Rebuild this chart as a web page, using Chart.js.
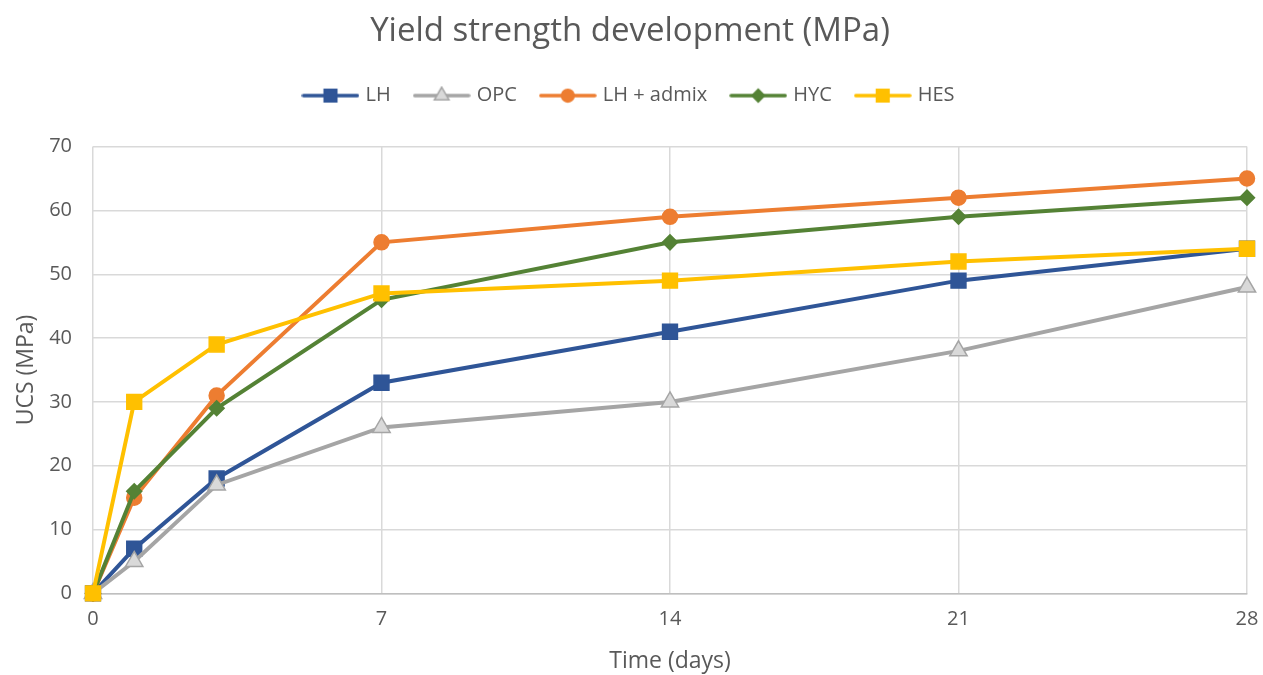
<!DOCTYPE html>
<html>
<head>
<meta charset="utf-8">
<script src="https://cdn.jsdelivr.net/npm/chart.js@4"></script>
<style>
  html, body { margin: 0; padding: 0; background: #fff; }
  #wrap { width: 1263px; height: 675px; }
</style>
</head>
<body>
<div id="wrap"><canvas id="chart"></canvas></div>
<script>
// Chart data
const days = [0, 1, 3, 7, 14, 21, 28];
const seriesNames = ["LH", "OPC", "LH + admix", "HYC", "HES"];
const lhValues = [0, 7, 18, 33, 41, 49, 54];
const opcValues = [0, 5, 17, 26, 30, 38, 48];
const lhAdmixValues = [0, 15, 31, 55, 59, 62, 65];
const hycValues = [0, 16, 29, 46, 55, 59, 62];
const hesValues = [0, 30, 39, 47, 49, 52, 54];
const xTicks = [0, 7, 14, 21, 28];

const FONT = "'Open Sans', 'Liberation Sans', sans-serif";
const TEXT = "#595959";

const styles = [
    { line: "#2F5597", fill: "#2F5597", point: "rect", r: 10.5 },
    { line: "#A5A5A5", fill: "#D9D9D9", point: "triangle", r: 10 },
    { line: "#ED7D31", fill: "#ED7D31", point: "circle", r: 7.5 },
    { line: "#548235", fill: "#548235", point: "rectRot", r: 7.5 },
    { line: "#FFC000", fill: "#FFC000", point: "rect", r: 10.5 }
];

const allValues = [lhValues, opcValues, lhAdmixValues, hycValues, hesValues];

// Legend swatch: a short line with the marker in the middle
function legendSwatch(s) {
    const c = document.createElement("canvas");
    c.width = 58; c.height = 20;
    const ctx = c.getContext("2d");
    ctx.strokeStyle = s.line;
    ctx.lineWidth = 3.5;
    ctx.lineCap = "round";
    ctx.beginPath();
    ctx.moveTo(2, 10); ctx.lineTo(56, 10);
    ctx.stroke();
    ctx.fillStyle = s.fill;
    ctx.strokeStyle = s.line;
    ctx.lineWidth = 1.5;
    Chart.helpers.drawPoint(ctx, { pointStyle: s.point, radius: s.r * 0.85, borderWidth: 1.5 }, 29, 10);
    return c;
}

const datasets = seriesNames.map((name, i) => ({
    label: name,
    data: days.map((d, j) => ({ x: d, y: allValues[i][j] })),
    borderColor: styles[i].line,
    backgroundColor: styles[i].fill,
    pointBackgroundColor: styles[i].fill,
    pointBorderColor: styles[i].line,
    pointBorderWidth: 1.5,
    pointStyle: styles[i].point,
    pointRadius: styles[i].r,
    pointHoverRadius: styles[i].r,
    borderWidth: 4,
    tension: 0,
    clip: false,
    order: seriesNames.length - i
}));

// extra space under the legend
const legendMargin = {
    id: "legendMargin",
    beforeInit(chart) {
        const fit = chart.legend.fit;
        chart.legend.fit = function () {
            fit.bind(chart.legend)();
            this.height += 31;
        };
    }
};

new Chart(document.getElementById("chart"), {
    type: "line",
    data: { datasets: datasets },
    plugins: [legendMargin],
    options: {
        responsive: true,
        maintainAspectRatio: false,
        animation: false,
        layout: { padding: { left: 13, right: 16, top: 0, bottom: 0 } },
        plugins: {
            title: {
                display: true,
                text: "Yield strength development (MPa)",
                color: TEXT,
                font: { family: FONT, size: 33, weight: "normal" },
                padding: { top: 12, bottom: 8 }
            },
            legend: {
                position: "top",
                labels: {
                    color: TEXT,
                    font: { family: FONT, size: 20 },
                    usePointStyle: true,
                    pointStyleWidth: 50,
                    boxHeight: 20,
                    padding: 26,
                    generateLabels: (chart) => chart.data.datasets.map((ds, i) => ({
                        text: ds.label,
                        pointStyle: legendSwatch(styles[i]),
                        fillStyle: styles[i].fill,
                        strokeStyle: styles[i].line,
                        lineWidth: 0,
                        fontColor: TEXT,
                        datasetIndex: i
                    }))
                }
            },
            tooltip: { enabled: false }
        },
        scales: {
            x: {
                type: "linear",
                min: 0,
                max: 28,
                afterBuildTicks: (axis) => { axis.ticks = xTicks.map(v => ({ value: v })); },
                afterFit: (axis) => { axis.paddingLeft = 0; axis.paddingRight = 0; },
                grid: { color: "#D9D9D9", lineWidth: 1.5, drawTicks: false },
                border: { color: "#BFBFBF", width: 1.5 },
                ticks: { color: TEXT, font: { family: FONT, size: 20 }, padding: 14 },
                title: {
                    display: true,
                    text: "Time (days)",
                    color: TEXT,
                    font: { family: FONT, size: 23 },
                    padding: { top: 2, bottom: 0 }
                }
            },
            y: {
                min: 0,
                max: 70,
                afterFit: (axis) => { axis.width = 80; },
                ticks: { stepSize: 10, color: TEXT, font: { family: FONT, size: 20 }, padding: 21 },
                grid: { color: "#D9D9D9", lineWidth: 1.5, drawTicks: false },
                border: { display: false },
                title: {
                    display: true,
                    text: "UCS (MPa)",
                    color: TEXT,
                    font: { family: FONT, size: 23 },
                    padding: { top: 0, bottom: 8 }
                }
            }
        }
    }
});
</script>
</body>
</html>
